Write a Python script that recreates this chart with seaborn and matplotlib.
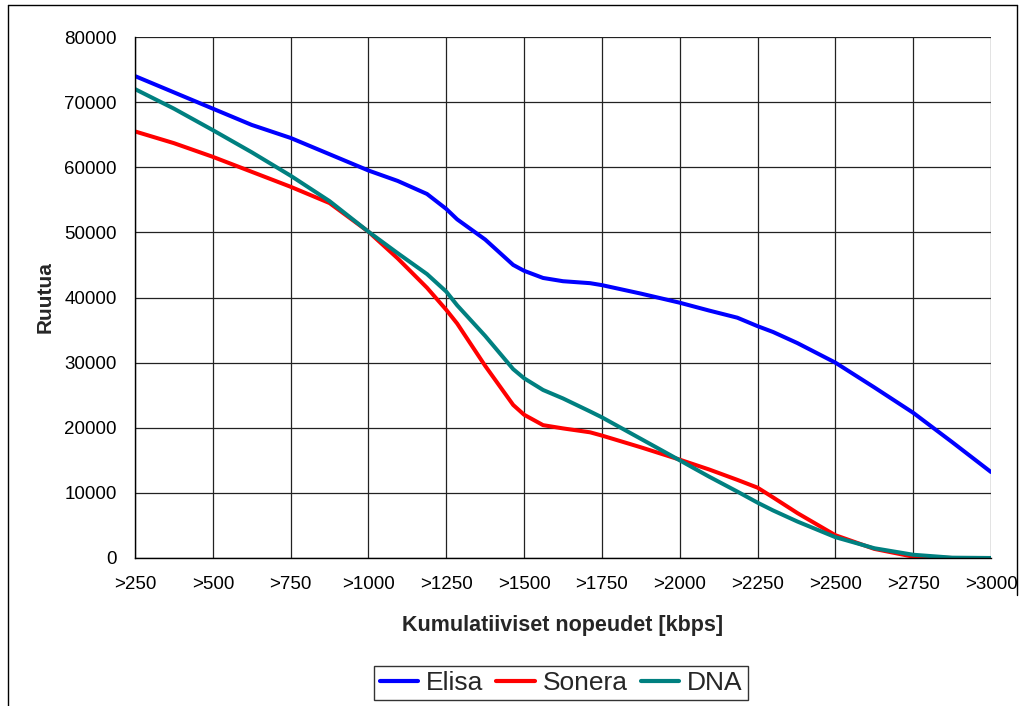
import numpy as np
import pandas as pd
import matplotlib
matplotlib.use("Agg")
import matplotlib.pyplot as plt
import seaborn as sns
from matplotlib.lines import Line2D

# ---- data ----
kbps = [250, 375, 500, 625, 750, 875, 1000, 1094, 1188, 1250, 1285, 1375, 1465, 1500,
        1561, 1625, 1712, 1750, 1875, 2000, 2094, 2185, 2250, 2300, 2378, 2500, 2625,
        2750, 2875, 3000]
elisa = [74000, 71500, 69000, 66500, 64500, 62000, 59500, 57900, 55900, 53600, 52000,
         48900, 45000, 44100, 43000, 42500, 42200, 41900, 40600, 39200, 38000, 36900,
         35600, 34700, 33000, 30000, 26200, 22300, 17800, 13200]
sonera = [65500, 63700, 61600, 59300, 57000, 54500, 50100, 46000, 41500, 38100, 36000,
          29500, 23500, 22000, 20400, 19900, 19300, 18800, 17000, 15100, 13600, 12000,
          10800, 9300, 6900, 3500, 1400, 200, 0, 0]
dna = [72000, 69000, 65700, 62300, 58700, 54800, 50100, 46800, 43600, 40900, 38800,
       34100, 29000, 27600, 25800, 24500, 22500, 21600, 18300, 15000, 12500, 10200,
       8500, 7300, 5600, 3200, 1500, 500, 50, 0]
series_names = ["Elisa", "Sonera", "DNA"]
tick_values = [250, 500, 750, 1000, 1250, 1500, 1750, 2000, 2250, 2500, 2750, 3000]
tick_labels = [">250", ">500", ">750", ">1000", ">1250", ">1500", ">1750", ">2000",
               ">2250", ">2500", ">2750", ">3000"]
y_ticks = [0, 10000, 20000, 30000, 40000, 50000, 60000, 70000, 80000]

colors = {"Elisa": "#0000FF", "Sonera": "#FF0000", "DNA": "#008080"}

df = pd.concat([
    pd.DataFrame({"kbps": kbps, "value": v, "series": n})
    for n, v in zip(series_names, [elisa, sonera, dna])
], ignore_index=True)

sns.set_style("white")
plt.rcParams["font.family"] = ["Liberation Sans", "DejaVu Sans"]

fig = plt.figure(figsize=(10.21, 7.06), dpi=100)
ax = fig.add_axes([135/1021, 148/706, (991-135)/1021, (558-37)/706])

sns.lineplot(data=df, x="kbps", y="value", hue="series", hue_order=series_names,
             palette=colors, linewidth=2.9, ax=ax, legend=False, sort=True)

ax.set_xlim(250, 3000)
ax.set_ylim(0, 80000)
ax.set_xticks(tick_values)
ax.set_xticklabels(tick_labels, fontsize=13.5)
ax.set_yticks(y_ticks)
ax.set_yticklabels([str(v) for v in y_ticks], fontsize=13.5)
ax.grid(True, color="#222222", linewidth=0.9)
ax.set_axisbelow(True)
for s in ["top", "right"]:
    ax.spines[s].set_visible(False)
for s in ["left", "bottom"]:
    ax.spines[s].set_color("black")
    ax.spines[s].set_linewidth(1.0)
ax.tick_params(axis="both", direction="out", length=5, width=1, color="black",
               labelcolor="black", pad=8)

ax.set_xlabel("")
ax.set_ylabel("")
fig.text(563/1021, 1 - 626/706, "Kumulatiiviset nopeudet [kbps]", ha="center",
         va="center", fontsize=15.5, fontweight="bold")
fig.text(45/1021, 1 - 297/706, "Ruutua", ha="center", va="center", rotation=90,
         fontsize=15, fontweight="bold")

handles = [Line2D([0], [0], color=colors[n], linewidth=3) for n in series_names]
leg = fig.legend(handles, series_names, loc="center", bbox_to_anchor=(561/1021, 1 - 683/706),
                 ncol=3, fontsize=19, frameon=True, fancybox=False, handlelength=1.45,
                 handletextpad=0.3, columnspacing=0.5, borderpad=0.2, borderaxespad=0)
leg.get_frame().set_edgecolor("black")
leg.get_frame().set_linewidth(1.0)

# outer chart border (left, top and upper right edges visible)
fig.add_artist(Line2D([8/1021, 8/1021], [0, 1 - 5/706], transform=fig.transFigure,
                      color="black", linewidth=1.0))
fig.add_artist(Line2D([8/1021, 1017/1021], [1 - 5/706, 1 - 5/706], transform=fig.transFigure,
                      color="black", linewidth=1.0))
fig.add_artist(Line2D([1017/1021, 1017/1021], [1 - 595/706, 1 - 5/706], transform=fig.transFigure,
                      color="black", linewidth=1.0))

fig.savefig("out.png", dpi=100)
